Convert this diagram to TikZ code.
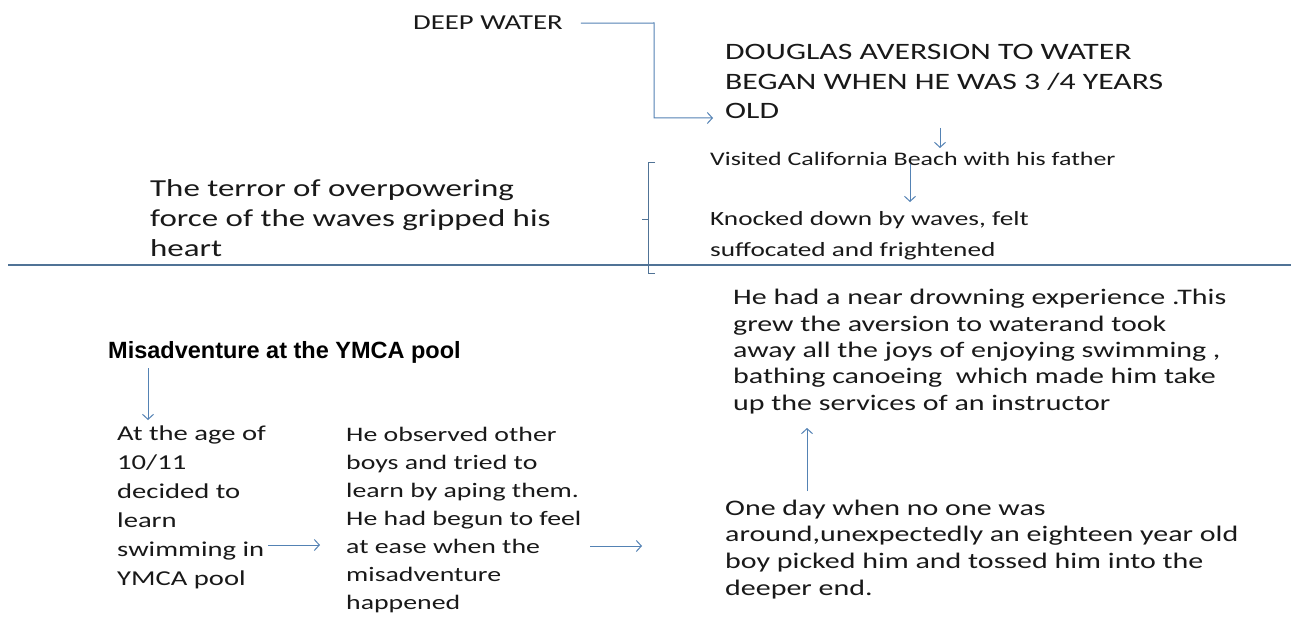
\documentclass[tikz,border=0pt]{standalone}
\usepackage{fontspec}
\setmainfont{Carlito}[FakeStretch=1.35]
\newfontfamily\titlefont{Liberation Sans}
\usetikzlibrary{arrows.meta}
\definecolor{connblue}{RGB}{84,130,180}
\definecolor{rulecol}{RGB}{80,115,150}
\begin{document}
\begin{tikzpicture}[x=1pt,y=-1pt,
  txt/.style={anchor=base west, inner sep=0pt, align=left, text=black!90},
  conn/.style={draw=connblue, line width=1pt},
  arr/.style={conn, -{Straight Barb[length=5pt,width=11pt]}}]
\useasboundingbox[fill=white] (0,0) rectangle (1291,623);

% top part (base anchor = baseline of the last line)
\node[txt, font=\fontsize{21.3}{30}\selectfont] (deep) at (413,30) {DEEP WATER};
\node[txt, font=\fontsize{23.5}{29.5}\selectfont] (doug) at (725,119)
  {DOUGLAS AVERSION TO WATER\\BEGAN WHEN HE WAS 3 /4 YEARS\\OLD};
\coordinate (dougin) at (713,118);
\draw[arr] ([xshift=18pt]deep.east) -- (654,23) -- (654,118) -- (dougin);

\node[txt, font=\fontsize{19.2}{30}\selectfont] (visit) at (710,165)
  {Visited California Beach with his father};
\coordinate (d1a) at (940,128);
\coordinate (d1b) at (940,148);
\draw[arr] (d1a) -- (d1b);

\node[txt, font=\fontsize{20.2}{31}\selectfont] (knock) at (710,256)
  {Knocked down by waves, felt\\suffocated and frightened};
\coordinate (d2a) at (910,164);
\coordinate (d2b) at (910,202);
\draw[arr] (d2a) -- (d2b);

\node[txt, font=\fontsize{24.4}{30}\selectfont] (terror) at (150,256)
  {The terror of overpowering\\force of the waves gripped his\\heart};

% bracket
\coordinate (bt) at (655,163);
\coordinate (bb) at (655,273);
\coordinate (bm) at (648,219);
\coordinate (bl) at (642,219);
\draw[conn, draw=rulecol] (bt) -- (648,163) -- (648,273) -- (bb);
\draw[conn, draw=rulecol] (bm) -- (bl);

% separator
\coordinate (sl) at (8,265);
\coordinate (sr) at (1291,265);
\draw[draw=rulecol, line width=1.3pt] (sl) -- (sr);

% lower part
\node[anchor=base west, inner sep=0pt, font=\titlefont\bfseries\fontsize{23.5}{28}\selectfont] (title) at (108,358)
  {Misadventure at the YMCA pool};
\coordinate (t1) at (148,368);
\coordinate (t2) at (148,420);
\draw[arr] (t1) -- (t2);

\node[txt, font=\fontsize{21.2}{29}\selectfont] (age) at (117,585)
  {At the age of\\10/11\\decided to\\learn\\swimming in\\YMCA pool};
\node[txt, font=\fontsize{20.6}{28}\selectfont] (obs) at (346,609)
  {He observed other\\boys and tried to\\learn by aping them.\\He had begun to feel\\at ease when the\\misadventure\\happened};
\coordinate (r1a) at (268,545);
\coordinate (r1b) at (320,545);
\draw[arr] (r1a) -- (r1b);
\coordinate (r2a) at (590,546);
\coordinate (r2b) at (642,546);
\draw[arr] (r2a) -- (r2b);

\node[txt, font=\fontsize{22.2}{26.6}\selectfont] (day) at (725,595)
  {One day when no one was\\around,unexpectedly an eighteen year old\\boy picked him and tossed him into the\\deeper end.};
\node[txt, font=\fontsize{22.2}{26.3}\selectfont] (near) at (733,410)
  {He had a near drowning experience .This\\grew the aversion to waterand took\\away all the joys of enjoying swimming ,\\bathing canoeing\ \ which made him take\\up the services of an instructor};
\coordinate (u1) at (807,491);
\coordinate (u2) at (807,428);
\draw[arr] (u1) -- (u2);
\end{tikzpicture}
\end{document}
